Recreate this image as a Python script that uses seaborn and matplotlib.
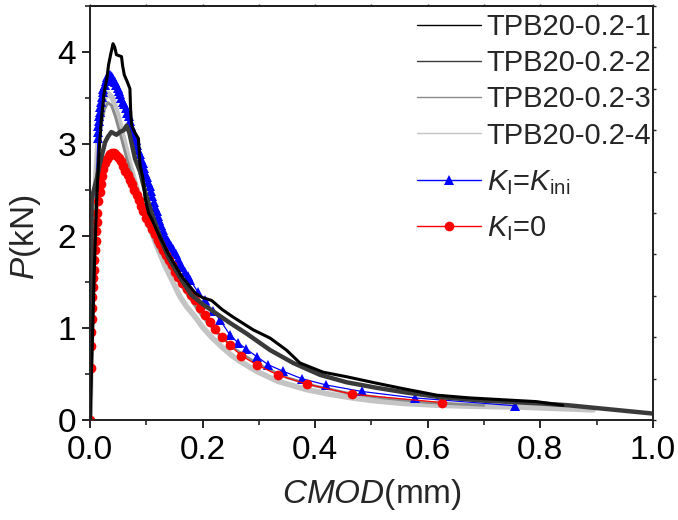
import matplotlib
matplotlib.use("Agg")
import matplotlib.pyplot as plt
from matplotlib.ticker import MultipleLocator
import seaborn as sns

# --- data (CMOD in mm, P in kN) ---
x_tpb1 = [0.000, 0.004, 0.008, 0.012, 0.016, 0.020, 0.025, 0.030, 0.033, 0.037, 0.041, 0.044,
          0.047, 0.056, 0.058, 0.061, 0.066, 0.071, 0.072, 0.074, 0.080, 0.086, 0.089, 0.094,
          0.098, 0.104, 0.110, 0.121, 0.139, 0.163, 0.187, 0.200, 0.216, 0.235, 0.254, 0.272,
          0.290, 0.320, 0.349, 0.373, 0.414, 0.456, 0.509, 0.557, 0.616, 0.675, 0.734, 0.793, 0.840]
y_tpb1 = [0.00, 0.80, 1.70, 2.40, 2.90, 3.25, 3.55, 3.71, 3.86, 3.98, 4.09, 4.05,
          3.97, 3.95, 3.85, 3.75, 3.68, 3.60, 3.40, 3.20, 3.12, 3.06, 2.77, 2.63,
          2.41, 2.25, 2.18, 2.03, 1.81, 1.56, 1.38, 1.33, 1.30, 1.20, 1.12, 1.05,
          0.98, 0.89, 0.76, 0.62, 0.52, 0.47, 0.40, 0.34, 0.27, 0.24, 0.22, 0.20, 0.16]

x_tpb2 = [0.000, 0.002, 0.003, 0.006, 0.012, 0.018, 0.027, 0.032, 0.038, 0.047, 0.053, 0.060,
          0.065, 0.070, 0.075, 0.080, 0.089, 0.098, 0.110, 0.125, 0.140, 0.160, 0.180, 0.200,
          0.219, 0.250, 0.278, 0.320, 0.361, 0.409, 0.456, 0.509, 0.560, 0.620, 0.700, 0.800,
          0.850, 0.900, 0.950, 1.000]
y_tpb2 = [0.00, 1.20, 2.40, 2.48, 2.62, 2.80, 3.02, 3.08, 3.13, 3.10, 3.13, 3.15,
          3.20, 3.12, 2.98, 2.84, 2.70, 2.48, 2.24, 1.98, 1.76, 1.55, 1.36, 1.26,
          1.18, 1.05, 0.94, 0.76, 0.62, 0.49, 0.41, 0.35, 0.30, 0.25, 0.21, 0.18,
          0.16, 0.13, 0.10, 0.07]

x_tpb3 = [0.000, 0.003, 0.006, 0.010, 0.015, 0.020, 0.026, 0.032, 0.038, 0.045, 0.055, 0.065,
          0.078, 0.090, 0.105, 0.120, 0.140, 0.160, 0.180, 0.200, 0.230, 0.260, 0.300, 0.350,
          0.400, 0.460, 0.520, 0.600, 0.700]
y_tpb3 = [0.00, 0.90, 1.80, 2.50, 2.95, 3.20, 3.38, 3.45, 3.42, 3.30, 3.08, 2.85,
          2.58, 2.34, 2.08, 1.88, 1.68, 1.48, 1.30, 1.12, 0.92, 0.76, 0.60, 0.46,
          0.37, 0.29, 0.24, 0.19, 0.16]

x_tpb4 = [0.000, 0.003, 0.006, 0.010, 0.015, 0.020, 0.026, 0.032, 0.040, 0.050, 0.060, 0.070,
          0.080, 0.090, 0.100, 0.110, 0.120, 0.133, 0.145, 0.160, 0.172, 0.187, 0.200, 0.216,
          0.235, 0.252, 0.266, 0.296, 0.334, 0.385, 0.426, 0.466, 0.503, 0.557, 0.620, 0.675,
          0.764, 0.853, 0.894]
y_tpb4 = [0.00, 1.00, 1.90, 2.60, 3.10, 3.35, 3.50, 3.55, 3.50, 3.30, 3.05, 2.80,
          2.58, 2.38, 2.20, 2.03, 1.87, 1.68, 1.53, 1.34, 1.23, 1.12, 1.01, 0.90,
          0.79, 0.70, 0.64, 0.53, 0.42, 0.33, 0.28, 0.24, 0.21, 0.18, 0.16, 0.15,
          0.14, 0.12, 0.11]

# model K_I = K_ini
x_kini = [0.000, 0.0140, 0.0145, 0.0150, 0.0155, 0.0160, 0.0170, 0.0180, 0.0195, 0.0210, 0.0225,
          0.0240, 0.0260, 0.0280, 0.0295, 0.0310, 0.0330, 0.0350, 0.0370, 0.0390, 0.0410, 0.0430,
          0.0450, 0.0470, 0.0490, 0.0510, 0.0535, 0.0560, 0.0585, 0.0610, 0.0635, 0.0660, 0.0685,
          0.0710, 0.0735, 0.0760, 0.0785, 0.0810, 0.0835, 0.0860, 0.0885, 0.0910, 0.0935, 0.0960,
          0.0985, 0.1010, 0.1035, 0.1060, 0.1085, 0.1110, 0.1135, 0.1160, 0.1185, 0.1210, 0.1235,
          0.1260, 0.1290, 0.1320, 0.1350, 0.1380, 0.1410, 0.1440, 0.1470, 0.1500, 0.1530, 0.1565,
          0.1600, 0.1640, 0.1690, 0.1735, 0.178, 0.192, 0.204, 0.219, 0.231, 0.249, 0.263, 0.278,
          0.296, 0.317, 0.343, 0.376, 0.420, 0.483, 0.577, 0.755]
y_kini = [0.00, 3.06, 3.13, 3.20, 3.25, 3.30, 3.35, 3.40, 3.46, 3.51, 3.56,
          3.60, 3.64, 3.68, 3.71, 3.73, 3.75, 3.75, 3.74, 3.73, 3.71, 3.69,
          3.67, 3.64, 3.61, 3.58, 3.54, 3.50, 3.46, 3.43, 3.39, 3.34, 3.30,
          3.25, 3.20, 3.14, 3.09, 3.04, 2.99, 2.94, 2.89, 2.84, 2.79, 2.74,
          2.69, 2.64, 2.59, 2.54, 2.49, 2.43, 2.37, 2.32, 2.27, 2.22, 2.17,
          2.12, 2.07, 2.02, 1.98, 1.95, 1.92, 1.89, 1.86, 1.83, 1.80, 1.75,
          1.71, 1.66, 1.61, 1.56, 1.52, 1.39, 1.30, 1.18, 1.09, 0.92, 0.84, 0.77,
          0.69, 0.60, 0.53, 0.45, 0.38, 0.31, 0.24, 0.155]

# model K_I = 0
x_k0 = [0.000, 0.001, 0.002, 0.002, 0.003, 0.003, 0.004, 0.005, 0.006, 0.007, 0.008, 0.009,
        0.010, 0.011, 0.012, 0.013, 0.015, 0.017, 0.019, 0.021, 0.024, 0.027, 0.030, 0.033,
        0.036, 0.039, 0.042, 0.045, 0.048, 0.051, 0.055, 0.059, 0.063, 0.067, 0.071, 0.075,
        0.079, 0.083, 0.087, 0.091, 0.095, 0.100, 0.105, 0.110, 0.115, 0.120, 0.125, 0.130,
        0.135, 0.140, 0.145, 0.151, 0.157, 0.164, 0.172, 0.180, 0.187, 0.195, 0.204, 0.213,
        0.222, 0.235, 0.249, 0.269, 0.296, 0.334, 0.385, 0.466, 0.625]
y_k0 = [0.00, 0.56, 0.80, 0.96, 1.10, 1.22, 1.34, 1.45, 1.54, 1.63, 1.74, 1.85,
        1.95, 2.05, 2.15, 2.25, 2.38, 2.48, 2.57, 2.65, 2.73, 2.79, 2.84, 2.87,
        2.89, 2.90, 2.90, 2.89, 2.87, 2.85, 2.81, 2.76, 2.71, 2.66, 2.61, 2.56,
        2.50, 2.45, 2.39, 2.33, 2.27, 2.20, 2.14, 2.08, 2.02, 1.96, 1.91, 1.85,
        1.79, 1.74, 1.68, 1.61, 1.55, 1.49, 1.42, 1.36, 1.30, 1.22, 1.14, 1.06,
        0.99, 0.90, 0.81, 0.70, 0.60, 0.49, 0.39, 0.28, 0.19]

sns.set_theme(style="ticks")
plt.rcParams['font.family'] = ['Liberation Sans', 'DejaVu Sans']
plt.rcParams['mathtext.fontset'] = 'custom'
plt.rcParams['mathtext.rm'] = 'Liberation Sans'
plt.rcParams['mathtext.it'] = 'Liberation Sans:italic'
plt.rcParams['axes.linewidth'] = 1.2

fig = plt.figure(figsize=(6.78, 5.2), dpi=100)
ax = fig.add_axes([0.1327, 0.1923, 0.8303, 0.7962])

# experiments (noisy curves drawn as thick lines)
sns.lineplot(x=x_tpb4, y=y_tpb4, ax=ax, color='#c4c4c4', lw=4, sort=False, estimator=None,
             label='TPB20-0.2-4', zorder=2)
sns.lineplot(x=x_tpb3, y=y_tpb3, ax=ax, color='#8a8a8a', lw=2, sort=False, estimator=None,
             label='TPB20-0.2-3', zorder=2)
sns.lineplot(x=x_tpb2, y=y_tpb2, ax=ax, color='#3a3a3a', lw=3.2, sort=False, estimator=None,
             label='TPB20-0.2-2', zorder=5)
sns.lineplot(x=x_tpb1, y=y_tpb1, ax=ax, color='black', lw=2.2, sort=False, estimator=None,
             label='TPB20-0.2-1', zorder=6)

# models
lab_kini = r'$\mathit{K}_\mathrm{I}$=$\mathit{K}_\mathrm{ini}$'
lab_k0 = r'$\mathit{K}_\mathrm{I}$=0'
sns.lineplot(x=x_kini, y=y_kini, ax=ax, color='blue', lw=0.9, marker='^', markersize=7.5,
             markeredgewidth=0, sort=False, estimator=None, label=lab_kini, zorder=3)
sns.lineplot(x=x_k0, y=y_k0, ax=ax, color='red', lw=0.9, marker='o', markersize=7,
             markeredgewidth=0, sort=False, estimator=None, label=lab_k0, zorder=4)

ax.set_xlim(0, 1.0)
ax.set_ylim(0, 4.5)
ax.xaxis.set_major_locator(MultipleLocator(0.2))
ax.xaxis.set_minor_locator(MultipleLocator(0.1))
ax.yaxis.set_major_locator(MultipleLocator(1))
ax.yaxis.set_minor_locator(MultipleLocator(0.5))
ax.tick_params(which='major', direction='out', length=6, width=1.2, labelsize=24,
               colors='black')
ax.tick_params(axis='x', which='major', pad=5)
ax.tick_params(axis='y', which='major', pad=4)
ax.tick_params(which='minor', direction='out', length=3.5, width=1.2)
for s in ax.spines.values():
    s.set_visible(True)
    s.set_color('black')

# tiny ticks on the top and right frame
top = ax.secondary_xaxis('top')
top.xaxis.set_major_locator(MultipleLocator(0.1))
top.tick_params(direction='out', length=1.5, width=1, labeltop=False)
right = ax.twinx()
right.set_ylim(0, 10)
right.yaxis.set_major_locator(MultipleLocator(1))
right.tick_params(direction='out', length=2, width=1, labelright=False)
right.grid(False)

ax.set_xlabel(r'$\mathit{CMOD}$(mm)', fontsize=24, labelpad=8)
ax.set_ylabel(r'$\mathit{P}$(kN)', fontsize=24)
ax.yaxis.set_label_coords(-0.083, 0.44)

# legends: experiments on top, models below with a wider gap
handles, labels = ax.get_legend_handles_labels()
hmap = dict(zip(labels, handles))
exp_order = ['TPB20-0.2-1', 'TPB20-0.2-2', 'TPB20-0.2-3', 'TPB20-0.2-4']
mod_order = [lab_kini, lab_k0]
leg_style = dict(frameon=False, fontsize=21, handlelength=2.2, handletextpad=0.2,
                 borderpad=0.1, borderaxespad=0.0)
leg1 = ax.legend([hmap[k] for k in exp_order], exp_order, loc='upper left',
                 bbox_to_anchor=(0.5755, 0.99), labelspacing=0.28, **leg_style)
for ln in leg1.get_lines():
    ln.set_linewidth(1)
leg1.set_zorder(10)
ax.add_artist(leg1)
leg2 = ax.legend([hmap[k] for k in mod_order], mod_order, loc='upper left',
                 bbox_to_anchor=(0.5755, 0.615), labelspacing=0.57, **leg_style)
for ln in leg2.get_lines():
    ln.set_linewidth(1)
leg2.set_zorder(10)

fig.savefig('out.png', dpi=100)
